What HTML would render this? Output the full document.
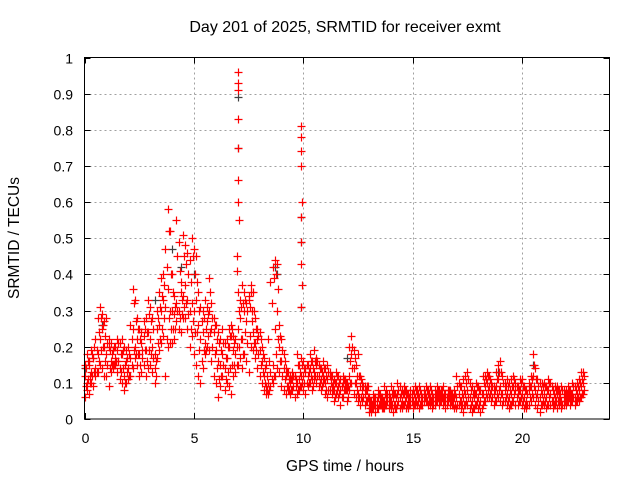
<!DOCTYPE html>
<html><head><meta charset="utf-8"><style>
body{margin:0;background:#fff;font-family:"Liberation Sans",sans-serif}
</style></head><body>
<svg id="chart" width="640" height="480" xmlns="http://www.w3.org/2000/svg" font-family="Liberation Sans, sans-serif" font-size="14">
<rect width="640" height="480" fill="#fff"/>
<text x="345" y="32" text-anchor="middle" font-size="16">Day 201 of 2025, SRMTID for receiver exmt</text>
<text transform="translate(19,238) rotate(-90)" text-anchor="middle" font-size="15.5">SRMTID / TECUs</text>
<text x="345" y="471" text-anchor="middle" font-size="15.5">GPS time / hours</text>
<g id="grid"></g><g id="ticks"></g><g id="marks"></g>
<rect x="84.5" y="57.5" width="525" height="361.5" fill="none" stroke="#000" stroke-width="1"/>
</svg>
<script>
const xTicks=[0,5,10,15,20];
const yTicks=[0,0.1,0.2,0.3,0.4,0.5,0.6,0.7,0.8,0.9,1];
const yTickLabels=["0","0.1","0.2","0.3","0.4","0.5","0.6","0.7","0.8","0.9","1"];
const tStart=0, tStep=0.1, tStartOffset=0.05;
const seriesA=[.12,.10,.15,.13,.17,.14,.18,.22,.25,.20,.18,.20,.16,.15,.17,.19,.14,.18,.12,.16,.14,.17,.25,.20,.22,.18,.21,.23,.19,.24,.22,.20,.14,.25,.26,.30,.33,.31,.36,.30,.30,.29,.32,.30,.35,.34,.37,.33,.30,.32,.30,.33,.26,.22,.24,.21,.27,.30,.25,.24,.19,.16,.15,.18,.14,.17,.20,.23,.19,.18,.25,.28,.22,.30,.27,.33,.35,.24,.21,.22,.19,.16,.12,.09,.10,.13,.15,.25,.30,.20,.16,.14,.12,.09,.10,.11,.12,.10,.11,.12,.12,.13,.12,.14,.11,.13,.15,.12,.11,.12,.10,.11,.12,.09,.08,.10,.09,.08,.10,.09,.08,.12,.18,.14,.10,.07,.09,.08,.07,.08,.04,.03,.05,.04,.06,.05,.04,.05,.06,.05,.05,.06,.04,.07,.06,.05,.07,.06,.05,.06,.05,.06,.07,.06,.05,.07,.06,.07,.06,.05,.06,.07,.06,.07,.06,.05,.07,.06,.05,.06,.06,.07,.05,.06,.07,.08,.06,.05,.06,.07,.06,.05,.07,.09,.10,.09,.08,.07,.09,.11,.09,.07,.08,.07,.06,.07,.09,.08,.07,.08,.07,.06,.05,.08,.09,.12,.08,.07,.06,.07,.07,.06,.08,.07,.05,.06,.07,.06,.05,.06,.06,.07,.06,.07,.06,.07,.08,.09,.10];
const seriesB=[.15,.18,.16,.19,.17,.22,.28,.31,.29,.27,.28,.22,.21,.19,.20,.22,.21,.22,.20,.19,.20,.26,.36,.33,.28,.25,.24,.27,.28,.33,.31,.28,.18,.30,.35,.39,.40,.47,.58,.52,.40,.34,.55,.49,.38,.51,.48,.46,.44,.50,.47,.45,.35,.31,.30,.33,.31,.39,.32,.28,.26,.24,.22,.25,.21,.22,.25,.26,.23,.22,.35,.33,.37,.35,.32,.34,.37,.35,.28,.25,.24,.20,.17,.15,.22,.38,.42,.44,.43,.26,.22,.18,.14,.13,.12,.13,.12,.18,.15,.17,.16,.14,.15,.18,.16,.19,.17,.15,.14,.16,.14,.15,.13,.12,.11,.13,.12,.11,.12,.11,.10,.20,.23,.19,.15,.18,.12,.10,.09,.09,.06,.05,.07,.06,.08,.07,.06,.09,.08,.07,.09,.08,.07,.10,.09,.08,.09,.08,.07,.08,.08,.09,.08,.09,.07,.08,.09,.08,.09,.07,.08,.09,.08,.08,.09,.07,.08,.08,.07,.08,.12,.10,.09,.11,.12,.13,.10,.09,.08,.10,.09,.08,.12,.12,.13,.12,.10,.09,.13,.15,.16,.12,.10,.11,.10,.11,.12,.10,.09,.11,.11,.09,.08,.10,.12,.18,.14,.11,.10,.10,.10,.09,.11,.10,.08,.09,.09,.08,.09,.08,.08,.09,.08,.10,.09,.10,.11,.13,.13];
const seriesC=[.06,.08,.07,.10,.09,.12,.13,.15,.14,.12,.12,.09,.13,.14,.15,.13,.11,.10,.08,.10,.11,.12,.14,.17,.15,.12,.13,.15,.12,.14,.15,.13,.10,.17,.19,.21,.23,.12,.20,.21,.21,.22,.27,.25,.24,.28,.28,.25,.20,.23,.18,.15,.12,.10,.14,.18,.20,.19,.16,.12,.10,.06,.09,.12,.08,.10,.09,.07,.12,.13,.15,.17,.14,.18,.16,.13,.20,.19,.17,.14,.12,.10,.08,.07,.07,.09,.10,.12,.14,.13,.09,.08,.07,.08,.07,.08,.06,.07,.08,.09,.08,.07,.09,.10,.08,.11,.10,.09,.08,.10,.07,.06,.08,.07,.05,.07,.06,.04,.06,.08,.05,.08,.10,.07,.06,.05,.04,.05,.04,.05,.02,.02,.03,.02,.03,.04,.03,.03,.04,.03,.03,.02,.03,.04,.03,.03,.04,.03,.03,.04,.03,.04,.04,.03,.04,.05,.05,.04,.04,.03,.04,.05,.04,.05,.04,.03,.05,.04,.04,.03,.03,.04,.03,.02,.04,.04,.03,.02,.03,.04,.03,.02,.04,.05,.06,.06,.05,.04,.05,.06,.05,.04,.05,.04,.03,.04,.05,.04,.04,.05,.04,.03,.03,.04,.05,.06,.04,.03,.02,.04,.04,.03,.04,.04,.03,.04,.03,.04,.03,.04,.04,.05,.04,.05,.04,.05,.05,.06,.07];
const seriesD=[.14,.16,.12,.18,.20,.19,.24,.28,.26,.23,.21,.19,.18,.20,.16,.21,.18,.19,.15,.17,.18,.22,.32,.27,.25,.22,.19,.25,.24,.29,.27,.25,.16,.28,.31,.34,.37,.42,.52,.40,.35,.31,.45,.41,.33,.45,.43,.40,.38,.45,.40,.38,.30,.27,.28,.25,.29,.35,.28,.26,.22,.21,.19,.21,.17,.20,.23,.25,.21,.20,.30,.31,.32,.33,.30,.31,.30,.30,.25,.23,.22,.18,.14,.12,.16,.32,.39,.40,.36,.23,.19,.16,.13,.11,.11,.12,.11,.15,.13,.15,.14,.15,.13,.16,.14,.16,.16,.14,.13,.14,.12,.13,.12,.10,.10,.12,.10,.09,.11,.10,.09,.16,.20,.17,.12,.12,.11,.09,.08,.09,.05,.04,.06,.05,.07,.06,.05,.07,.07,.06,.07,.07,.06,.08,.07,.07,.08,.07,.06,.07,.07,.08,.07,.08,.06,.07,.08,.07,.08,.06,.07,.08,.07,.08,.07,.06,.08,.07,.06,.07,.09,.09,.07,.08,.10,.11,.08,.07,.07,.09,.08,.07,.10,.11,.12,.11,.09,.08,.11,.13,.13,.10,.09,.09,.08,.09,.11,.09,.08,.10,.09,.08,.07,.09,.11,.15,.11,.09,.08,.09,.09,.08,.10,.09,.07,.08,.08,.07,.08,.07,.07,.08,.07,.09,.08,.09,.10,.11,.12];
const seriesE=[.09,.11,.10,.12,.13,.13,.16,.19,.20,.16,.15,.14,.15,.15,.16,.16,.13,.14,.10,.13,.12,.15,.19,.18,.18,.15,.17,.19,.16,.19,.18,.17,.12,.21,.22,.25,.28,.22,.28,.25,.25,.25,.30,.28,.29,.31,.32,.29,.25,.27,.24,.24,.19,.16,.19,.19,.23,.24,.20,.18,.14,.11,.12,.15,.11,.13,.14,.15,.15,.15,.20,.22,.18,.24,.21,.23,.27,.21,.19,.18,.15,.13,.10,.08,.08,.11,.12,.18,.22,.16,.12,.11,.09,.08,.08,.09,.09,.08,.09,.10,.10,.10,.10,.12,.09,.12,.12,.10,.09,.11,.08,.08,.10,.08,.06,.08,.07,.06,.08,.08,.06,.10,.14,.10,.08,.06,.06,.06,.05,.06,.03,.03,.04,.03,.04,.04,.03,.04,.05,.04,.04,.04,.03,.05,.04,.04,.05,.04,.04,.05,.04,.05,.05,.04,.04,.06,.05,.05,.05,.04,.05,.06,.05,.06,.05,.04,.06,.05,.04,.04,.04,.05,.04,.04,.05,.06,.04,.03,.04,.05,.04,.03,.05,.07,.08,.07,.06,.05,.07,.08,.07,.05,.06,.05,.04,.05,.07,.06,.05,.06,.05,.04,.04,.06,.07,.09,.06,.05,.04,.05,.05,.04,.06,.05,.04,.05,.05,.05,.04,.05,.05,.06,.05,.06,.05,.06,.06,.07,.08];
const spikeTimes=[7.0,7.0,7.02,7.0,7.02,7.0,7.0,7.05,6.98,6.98,9.9,9.88,9.9,9.88,9.92,9.9,9.9,9.9,9.92,9.9];
const spikeValues=[.96,.93,.91,.83,.75,.66,.60,.55,.45,.41,.81,.78,.74,.70,.60,.56,.49,.43,.37,.31];
const grayTimes=[7.0,7.02,9.9,9.9,9.9,8.7,8.8,4.0,4.4,3.2,0.0,0.8,5.0,12.0,18.9,20.5];
const grayValues=[.89,.75,.56,.49,.31,.42,.40,.47,.42,.33,.14,.26,.40,.17,.13,.15];

const NS="http://www.w3.org/2000/svg";
const X0=84.5,X1=609.5,Y0=419,Y1=57.5,XMAX=24;
function xs(t){return X0+(X1-X0)*t/XMAX;}
function ys(v){return Y0-(Y0-Y1)*v;}
const grid=document.getElementById('grid'),ticks=document.getElementById('ticks'),marks=document.getElementById('marks');
function line(g,x1,y1,x2,y2,st,dash){const l=document.createElementNS(NS,'line');l.setAttribute('x1',x1);l.setAttribute('y1',y1);l.setAttribute('x2',x2);l.setAttribute('y2',y2);l.setAttribute('stroke',st);if(dash)l.setAttribute('stroke-dasharray',dash);g.appendChild(l);return l;}
xTicks.forEach(t=>{const x=Math.round(xs(t))+0.5;
 if(t>0){const gl=line(grid,x,Y1,x,Y0,'#a0a0a0','2,3');
 
 }
 line(ticks,x,Y0,x,Y0-6,'#000');line(ticks,x,Y1,x,Y1+6,'#000');
 const tx=document.createElementNS(NS,'text');tx.setAttribute('x',x);tx.setAttribute('y',443);tx.setAttribute('text-anchor','middle');tx.textContent=String(t);
 
 
 ticks.appendChild(tx);});
yTicks.forEach((v,i)=>{const y=Math.round(ys(v))+0.5;
 if(v>0&&v<1){const gl=line(grid,X0,y,X1,y,'#a0a0a0','2,3');
 
 }
 line(ticks,X0,y,X0+6,y,'#000');line(ticks,X1,y,X1-6,y,'#000');
 const tx=document.createElementNS(NS,'text');tx.setAttribute('x',73);tx.setAttribute('y',y+5);tx.setAttribute('text-anchor','end');tx.textContent=yTickLabels[i];
 
 
 ticks.appendChild(tx);});
function plus(t,v,col,name){const x=Math.round(xs(t))+0.5,y=Math.round(ys(v))+0.5;
 const p=document.createElementNS(NS,'path');p.setAttribute('d',`M${x-4} ${y}H${x+4}M${x} ${y-4}V${y+4}`);p.setAttribute('stroke',col);p.setAttribute('stroke-width','1.2');
 
 
 marks.appendChild(p);}
grayTimes.forEach((t,i)=>plus(t,grayValues[i],'#404040','gray-point'));
[seriesA,seriesB,seriesC].forEach(s=>s.forEach((v,i)=>plus(tStart+i*tStep,v,'#ff0000','srmtid-point')));
[seriesD,seriesE].forEach(s=>s.forEach((v,i)=>plus(tStartOffset+i*tStep,v,'#ff0000','srmtid-point')));
spikeTimes.forEach((t,i)=>plus(t,spikeValues[i],'#ff0000','spike-point'));
</script>
</body></html>
